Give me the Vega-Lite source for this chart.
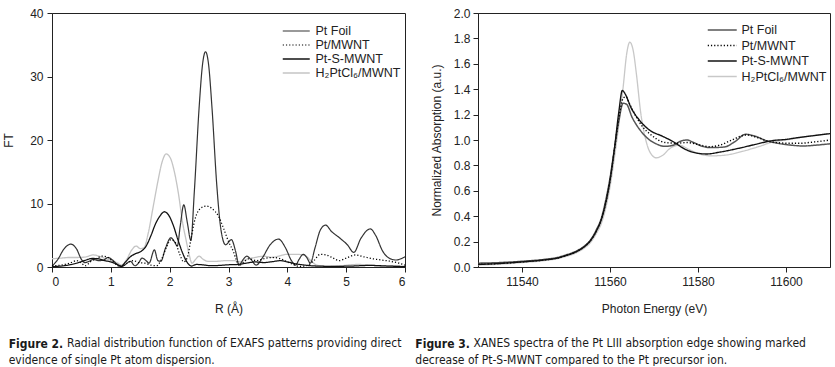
{
  "$schema": "https://vega.github.io/schema/vega-lite/v6.json",
  "background": "white",
  "padding": {"left": 2, "top": 6, "right": 2, "bottom": 0},
  "spacing": 5,
  "datasets": {
    "exafs": [
      {"s": "H₂PtCl₆/MWNT", "R": 0, "FT": 1.3}, {"s": "H₂PtCl₆/MWNT", "R": 0.15, "FT": 1.4}, {"s": "H₂PtCl₆/MWNT", "R": 0.3, "FT": 1.5}, {"s": "H₂PtCl₆/MWNT", "R": 0.45, "FT": 1.5}, {"s": "H₂PtCl₆/MWNT", "R": 0.58, "FT": 1.6}, {"s": "H₂PtCl₆/MWNT", "R": 0.7, "FT": 1.9}, {"s": "H₂PtCl₆/MWNT", "R": 0.8, "FT": 1.7}, {"s": "H₂PtCl₆/MWNT", "R": 0.92, "FT": 1.3}, {"s": "H₂PtCl₆/MWNT", "R": 1.02, "FT": 1.0}, {"s": "H₂PtCl₆/MWNT", "R": 1.12, "FT": 0.6}, {"s": "H₂PtCl₆/MWNT", "R": 1.18, "FT": 0.3}, {"s": "H₂PtCl₆/MWNT", "R": 1.27, "FT": 1.2}, {"s": "H₂PtCl₆/MWNT", "R": 1.35, "FT": 2.6}, {"s": "H₂PtCl₆/MWNT", "R": 1.43, "FT": 3.3}, {"s": "H₂PtCl₆/MWNT", "R": 1.5, "FT": 2.9}, {"s": "H₂PtCl₆/MWNT", "R": 1.56, "FT": 3.0}, {"s": "H₂PtCl₆/MWNT", "R": 1.64, "FT": 5.5}, {"s": "H₂PtCl₆/MWNT", "R": 1.72, "FT": 9.5}, {"s": "H₂PtCl₆/MWNT", "R": 1.8, "FT": 13.5}, {"s": "H₂PtCl₆/MWNT", "R": 1.87, "FT": 16.5}, {"s": "H₂PtCl₆/MWNT", "R": 1.94, "FT": 17.8}, {"s": "H₂PtCl₆/MWNT", "R": 2.01, "FT": 17.2}, {"s": "H₂PtCl₆/MWNT", "R": 2.08, "FT": 15.0}, {"s": "H₂PtCl₆/MWNT", "R": 2.15, "FT": 11.5}, {"s": "H₂PtCl₆/MWNT", "R": 2.22, "FT": 7.0}, {"s": "H₂PtCl₆/MWNT", "R": 2.28, "FT": 4.2}, {"s": "H₂PtCl₆/MWNT", "R": 2.33, "FT": 2.0}, {"s": "H₂PtCl₆/MWNT", "R": 2.38, "FT": 0.6}, {"s": "H₂PtCl₆/MWNT", "R": 2.44, "FT": 1.2}, {"s": "H₂PtCl₆/MWNT", "R": 2.5, "FT": 1.7}, {"s": "H₂PtCl₆/MWNT", "R": 2.57, "FT": 1.2}, {"s": "H₂PtCl₆/MWNT", "R": 2.65, "FT": 0.9}, {"s": "H₂PtCl₆/MWNT", "R": 2.8, "FT": 0.9}, {"s": "H₂PtCl₆/MWNT", "R": 2.95, "FT": 1.0}, {"s": "H₂PtCl₆/MWNT", "R": 3.1, "FT": 1.0}, {"s": "H₂PtCl₆/MWNT", "R": 3.2, "FT": 0.8}, {"s": "H₂PtCl₆/MWNT", "R": 3.3, "FT": 1.2}, {"s": "H₂PtCl₆/MWNT", "R": 3.45, "FT": 1.5}, {"s": "H₂PtCl₆/MWNT", "R": 3.6, "FT": 1.7}, {"s": "H₂PtCl₆/MWNT", "R": 3.75, "FT": 1.5}, {"s": "H₂PtCl₆/MWNT", "R": 3.88, "FT": 1.8}, {"s": "H₂PtCl₆/MWNT", "R": 4.0, "FT": 2.0}, {"s": "H₂PtCl₆/MWNT", "R": 4.15, "FT": 2.0}, {"s": "H₂PtCl₆/MWNT", "R": 4.3, "FT": 1.8}, {"s": "H₂PtCl₆/MWNT", "R": 4.4, "FT": 1.0}, {"s": "H₂PtCl₆/MWNT", "R": 4.5, "FT": 0.3}, {"s": "H₂PtCl₆/MWNT", "R": 4.65, "FT": 0.1}, {"s": "H₂PtCl₆/MWNT", "R": 4.9, "FT": 0.2}, {"s": "H₂PtCl₆/MWNT", "R": 5.2, "FT": 0.4}, {"s": "H₂PtCl₆/MWNT", "R": 5.4, "FT": 0.3}, {"s": "H₂PtCl₆/MWNT", "R": 5.6, "FT": 0.15}, {"s": "H₂PtCl₆/MWNT", "R": 5.8, "FT": 0.2}, {"s": "H₂PtCl₆/MWNT", "R": 6.0, "FT": 0.1},
      {"s": "Pt Foil", "R": 0, "FT": 0.1}, {"s": "Pt Foil", "R": 0.1, "FT": 1.2}, {"s": "Pt Foil", "R": 0.2, "FT": 2.8}, {"s": "Pt Foil", "R": 0.32, "FT": 3.6}, {"s": "Pt Foil", "R": 0.42, "FT": 2.8}, {"s": "Pt Foil", "R": 0.5, "FT": 1.2}, {"s": "Pt Foil", "R": 0.56, "FT": 0.7}, {"s": "Pt Foil", "R": 0.63, "FT": 0.9}, {"s": "Pt Foil", "R": 0.7, "FT": 1.2}, {"s": "Pt Foil", "R": 0.8, "FT": 1.0}, {"s": "Pt Foil", "R": 0.88, "FT": 1.1}, {"s": "Pt Foil", "R": 0.95, "FT": 1.5}, {"s": "Pt Foil", "R": 1.03, "FT": 1.1}, {"s": "Pt Foil", "R": 1.12, "FT": 0.3}, {"s": "Pt Foil", "R": 1.18, "FT": 0.05}, {"s": "Pt Foil", "R": 1.25, "FT": 0.4}, {"s": "Pt Foil", "R": 1.33, "FT": 0.9}, {"s": "Pt Foil", "R": 1.41, "FT": 0.2}, {"s": "Pt Foil", "R": 1.47, "FT": 0.6}, {"s": "Pt Foil", "R": 1.53, "FT": 1.4}, {"s": "Pt Foil", "R": 1.6, "FT": 1.0}, {"s": "Pt Foil", "R": 1.65, "FT": 0.6}, {"s": "Pt Foil", "R": 1.74, "FT": 2.7}, {"s": "Pt Foil", "R": 1.8, "FT": 1.0}, {"s": "Pt Foil", "R": 1.85, "FT": 0.9}, {"s": "Pt Foil", "R": 1.93, "FT": 3.0}, {"s": "Pt Foil", "R": 2.02, "FT": 4.6}, {"s": "Pt Foil", "R": 2.08, "FT": 4.0}, {"s": "Pt Foil", "R": 2.13, "FT": 3.3}, {"s": "Pt Foil", "R": 2.18, "FT": 6.5}, {"s": "Pt Foil", "R": 2.24, "FT": 9.8}, {"s": "Pt Foil", "R": 2.3, "FT": 7.0}, {"s": "Pt Foil", "R": 2.36, "FT": 4.2}, {"s": "Pt Foil", "R": 2.42, "FT": 12}, {"s": "Pt Foil", "R": 2.5, "FT": 25}, {"s": "Pt Foil", "R": 2.56, "FT": 32}, {"s": "Pt Foil", "R": 2.61, "FT": 33.9}, {"s": "Pt Foil", "R": 2.66, "FT": 32}, {"s": "Pt Foil", "R": 2.72, "FT": 25}, {"s": "Pt Foil", "R": 2.8, "FT": 13}, {"s": "Pt Foil", "R": 2.87, "FT": 6}, {"s": "Pt Foil", "R": 2.95, "FT": 3.5}, {"s": "Pt Foil", "R": 3.05, "FT": 4.3}, {"s": "Pt Foil", "R": 3.12, "FT": 2.5}, {"s": "Pt Foil", "R": 3.18, "FT": 0.3}, {"s": "Pt Foil", "R": 3.25, "FT": 1.2}, {"s": "Pt Foil", "R": 3.31, "FT": 1.7}, {"s": "Pt Foil", "R": 3.38, "FT": 1.2}, {"s": "Pt Foil", "R": 3.47, "FT": 0.3}, {"s": "Pt Foil", "R": 3.58, "FT": 1.5}, {"s": "Pt Foil", "R": 3.7, "FT": 3.4}, {"s": "Pt Foil", "R": 3.85, "FT": 4.4}, {"s": "Pt Foil", "R": 3.97, "FT": 3.0}, {"s": "Pt Foil", "R": 4.07, "FT": 1.0}, {"s": "Pt Foil", "R": 4.14, "FT": 0.3}, {"s": "Pt Foil", "R": 4.2, "FT": 1.2}, {"s": "Pt Foil", "R": 4.27, "FT": 2.0}, {"s": "Pt Foil", "R": 4.33, "FT": 1.5}, {"s": "Pt Foil", "R": 4.39, "FT": 0.6}, {"s": "Pt Foil", "R": 4.47, "FT": 3.0}, {"s": "Pt Foil", "R": 4.56, "FT": 5.8}, {"s": "Pt Foil", "R": 4.65, "FT": 6.6}, {"s": "Pt Foil", "R": 4.75, "FT": 5.6}, {"s": "Pt Foil", "R": 4.9, "FT": 4.5}, {"s": "Pt Foil", "R": 5.02, "FT": 3.5}, {"s": "Pt Foil", "R": 5.13, "FT": 2.3}, {"s": "Pt Foil", "R": 5.25, "FT": 4.5}, {"s": "Pt Foil", "R": 5.41, "FT": 6.0}, {"s": "Pt Foil", "R": 5.5, "FT": 5.0}, {"s": "Pt Foil", "R": 5.62, "FT": 2.5}, {"s": "Pt Foil", "R": 5.75, "FT": 1.3}, {"s": "Pt Foil", "R": 5.85, "FT": 1.1}, {"s": "Pt Foil", "R": 5.93, "FT": 1.3}, {"s": "Pt Foil", "R": 6.0, "FT": 1.6},
      {"s": "Pt/MWNT", "R": 0, "FT": 0.2}, {"s": "Pt/MWNT", "R": 0.15, "FT": 0.3}, {"s": "Pt/MWNT", "R": 0.3, "FT": 0.6}, {"s": "Pt/MWNT", "R": 0.42, "FT": 1.0}, {"s": "Pt/MWNT", "R": 0.5, "FT": 0.6}, {"s": "Pt/MWNT", "R": 0.57, "FT": 0.2}, {"s": "Pt/MWNT", "R": 0.65, "FT": 0.8}, {"s": "Pt/MWNT", "R": 0.75, "FT": 1.3}, {"s": "Pt/MWNT", "R": 0.85, "FT": 1.7}, {"s": "Pt/MWNT", "R": 0.93, "FT": 1.6}, {"s": "Pt/MWNT", "R": 1.02, "FT": 1.0}, {"s": "Pt/MWNT", "R": 1.12, "FT": 0.2}, {"s": "Pt/MWNT", "R": 1.18, "FT": 0.05}, {"s": "Pt/MWNT", "R": 1.27, "FT": 0.6}, {"s": "Pt/MWNT", "R": 1.38, "FT": 1.0}, {"s": "Pt/MWNT", "R": 1.48, "FT": 0.7}, {"s": "Pt/MWNT", "R": 1.58, "FT": 0.6}, {"s": "Pt/MWNT", "R": 1.68, "FT": 0.3}, {"s": "Pt/MWNT", "R": 1.78, "FT": 0.2}, {"s": "Pt/MWNT", "R": 1.86, "FT": 1.2}, {"s": "Pt/MWNT", "R": 1.95, "FT": 3.2}, {"s": "Pt/MWNT", "R": 2.02, "FT": 4.3}, {"s": "Pt/MWNT", "R": 2.1, "FT": 3.8}, {"s": "Pt/MWNT", "R": 2.17, "FT": 2.0}, {"s": "Pt/MWNT", "R": 2.24, "FT": 0.8}, {"s": "Pt/MWNT", "R": 2.3, "FT": 1.5}, {"s": "Pt/MWNT", "R": 2.36, "FT": 4.3}, {"s": "Pt/MWNT", "R": 2.43, "FT": 7.5}, {"s": "Pt/MWNT", "R": 2.52, "FT": 9.2}, {"s": "Pt/MWNT", "R": 2.62, "FT": 9.6}, {"s": "Pt/MWNT", "R": 2.72, "FT": 9.2}, {"s": "Pt/MWNT", "R": 2.83, "FT": 8.0}, {"s": "Pt/MWNT", "R": 2.92, "FT": 6.0}, {"s": "Pt/MWNT", "R": 3.0, "FT": 4.0}, {"s": "Pt/MWNT", "R": 3.08, "FT": 2.5}, {"s": "Pt/MWNT", "R": 3.13, "FT": 1.2}, {"s": "Pt/MWNT", "R": 3.18, "FT": 0.2}, {"s": "Pt/MWNT", "R": 3.25, "FT": 0.7}, {"s": "Pt/MWNT", "R": 3.35, "FT": 1.3}, {"s": "Pt/MWNT", "R": 3.48, "FT": 1.0}, {"s": "Pt/MWNT", "R": 3.6, "FT": 1.3}, {"s": "Pt/MWNT", "R": 3.75, "FT": 1.5}, {"s": "Pt/MWNT", "R": 3.88, "FT": 1.3}, {"s": "Pt/MWNT", "R": 4.0, "FT": 0.8}, {"s": "Pt/MWNT", "R": 4.1, "FT": 0.4}, {"s": "Pt/MWNT", "R": 4.2, "FT": 0.1}, {"s": "Pt/MWNT", "R": 4.32, "FT": 0.2}, {"s": "Pt/MWNT", "R": 4.45, "FT": 1.0}, {"s": "Pt/MWNT", "R": 4.56, "FT": 2.0}, {"s": "Pt/MWNT", "R": 4.66, "FT": 1.9}, {"s": "Pt/MWNT", "R": 4.78, "FT": 1.4}, {"s": "Pt/MWNT", "R": 4.88, "FT": 1.0}, {"s": "Pt/MWNT", "R": 5.0, "FT": 1.4}, {"s": "Pt/MWNT", "R": 5.16, "FT": 1.9}, {"s": "Pt/MWNT", "R": 5.3, "FT": 1.6}, {"s": "Pt/MWNT", "R": 5.45, "FT": 1.3}, {"s": "Pt/MWNT", "R": 5.6, "FT": 1.1}, {"s": "Pt/MWNT", "R": 5.75, "FT": 0.9}, {"s": "Pt/MWNT", "R": 5.9, "FT": 0.6}, {"s": "Pt/MWNT", "R": 6.0, "FT": 0.3},
      {"s": "Pt-S-MWNT", "R": 0, "FT": 0.05}, {"s": "Pt-S-MWNT", "R": 0.15, "FT": 0.15}, {"s": "Pt-S-MWNT", "R": 0.3, "FT": 0.35}, {"s": "Pt-S-MWNT", "R": 0.45, "FT": 0.7}, {"s": "Pt-S-MWNT", "R": 0.58, "FT": 1.1}, {"s": "Pt-S-MWNT", "R": 0.68, "FT": 1.35}, {"s": "Pt-S-MWNT", "R": 0.78, "FT": 1.3}, {"s": "Pt-S-MWNT", "R": 0.9, "FT": 1.0}, {"s": "Pt-S-MWNT", "R": 1.0, "FT": 0.8}, {"s": "Pt-S-MWNT", "R": 1.1, "FT": 0.45}, {"s": "Pt-S-MWNT", "R": 1.18, "FT": 0.15}, {"s": "Pt-S-MWNT", "R": 1.25, "FT": 0.8}, {"s": "Pt-S-MWNT", "R": 1.33, "FT": 1.6}, {"s": "Pt-S-MWNT", "R": 1.42, "FT": 2.1}, {"s": "Pt-S-MWNT", "R": 1.52, "FT": 2.5}, {"s": "Pt-S-MWNT", "R": 1.6, "FT": 3.3}, {"s": "Pt-S-MWNT", "R": 1.68, "FT": 4.9}, {"s": "Pt-S-MWNT", "R": 1.76, "FT": 6.8}, {"s": "Pt-S-MWNT", "R": 1.84, "FT": 8.1}, {"s": "Pt-S-MWNT", "R": 1.91, "FT": 8.7}, {"s": "Pt-S-MWNT", "R": 1.98, "FT": 8.2}, {"s": "Pt-S-MWNT", "R": 2.06, "FT": 6.6}, {"s": "Pt-S-MWNT", "R": 2.14, "FT": 4.3}, {"s": "Pt-S-MWNT", "R": 2.22, "FT": 2.2}, {"s": "Pt-S-MWNT", "R": 2.3, "FT": 0.7}, {"s": "Pt-S-MWNT", "R": 2.37, "FT": 0.15}, {"s": "Pt-S-MWNT", "R": 2.45, "FT": 0.4}, {"s": "Pt-S-MWNT", "R": 2.55, "FT": 0.35}, {"s": "Pt-S-MWNT", "R": 2.7, "FT": 0.2}, {"s": "Pt-S-MWNT", "R": 2.85, "FT": 0.25}, {"s": "Pt-S-MWNT", "R": 3.0, "FT": 0.35}, {"s": "Pt-S-MWNT", "R": 3.15, "FT": 0.4}, {"s": "Pt-S-MWNT", "R": 3.3, "FT": 0.6}, {"s": "Pt-S-MWNT", "R": 3.45, "FT": 0.8}, {"s": "Pt-S-MWNT", "R": 3.6, "FT": 0.7}, {"s": "Pt-S-MWNT", "R": 3.75, "FT": 0.85}, {"s": "Pt-S-MWNT", "R": 3.88, "FT": 1.0}, {"s": "Pt-S-MWNT", "R": 4.0, "FT": 0.8}, {"s": "Pt-S-MWNT", "R": 4.15, "FT": 0.5}, {"s": "Pt-S-MWNT", "R": 4.3, "FT": 0.3}, {"s": "Pt-S-MWNT", "R": 4.5, "FT": 0.15}, {"s": "Pt-S-MWNT", "R": 4.8, "FT": 0.1}, {"s": "Pt-S-MWNT", "R": 5.1, "FT": 0.15}, {"s": "Pt-S-MWNT", "R": 5.4, "FT": 0.25}, {"s": "Pt-S-MWNT", "R": 5.7, "FT": 0.15}, {"s": "Pt-S-MWNT", "R": 6.0, "FT": 0.05}
    ],
    "xanes": [
      {"s": "H₂PtCl₆/MWNT", "E": 11530, "A": 0.015}, {"s": "H₂PtCl₆/MWNT", "E": 11535, "A": 0.022}, {"s": "H₂PtCl₆/MWNT", "E": 11540, "A": 0.035}, {"s": "H₂PtCl₆/MWNT", "E": 11545, "A": 0.05}, {"s": "H₂PtCl₆/MWNT", "E": 11548, "A": 0.065}, {"s": "H₂PtCl₆/MWNT", "E": 11550, "A": 0.083}, {"s": "H₂PtCl₆/MWNT", "E": 11552, "A": 0.107}, {"s": "H₂PtCl₆/MWNT", "E": 11554, "A": 0.145}, {"s": "H₂PtCl₆/MWNT", "E": 11555.5, "A": 0.19}, {"s": "H₂PtCl₆/MWNT", "E": 11557, "A": 0.27}, {"s": "H₂PtCl₆/MWNT", "E": 11558, "A": 0.34}, {"s": "H₂PtCl₆/MWNT", "E": 11559, "A": 0.46}, {"s": "H₂PtCl₆/MWNT", "E": 11560, "A": 0.63}, {"s": "H₂PtCl₆/MWNT", "E": 11561, "A": 0.86}, {"s": "H₂PtCl₆/MWNT", "E": 11562, "A": 1.12}, {"s": "H₂PtCl₆/MWNT", "E": 11563, "A": 1.42}, {"s": "H₂PtCl₆/MWNT", "E": 11563.8, "A": 1.68}, {"s": "H₂PtCl₆/MWNT", "E": 11564.5, "A": 1.77}, {"s": "H₂PtCl₆/MWNT", "E": 11565.3, "A": 1.7}, {"s": "H₂PtCl₆/MWNT", "E": 11566, "A": 1.52}, {"s": "H₂PtCl₆/MWNT", "E": 11567, "A": 1.21}, {"s": "H₂PtCl₆/MWNT", "E": 11568, "A": 1.02}, {"s": "H₂PtCl₆/MWNT", "E": 11569, "A": 0.91}, {"s": "H₂PtCl₆/MWNT", "E": 11570.5, "A": 0.86}, {"s": "H₂PtCl₆/MWNT", "E": 11572, "A": 0.88}, {"s": "H₂PtCl₆/MWNT", "E": 11573.5, "A": 0.93}, {"s": "H₂PtCl₆/MWNT", "E": 11575.7, "A": 0.96}, {"s": "H₂PtCl₆/MWNT", "E": 11578, "A": 0.925}, {"s": "H₂PtCl₆/MWNT", "E": 11580, "A": 0.895}, {"s": "H₂PtCl₆/MWNT", "E": 11583, "A": 0.875}, {"s": "H₂PtCl₆/MWNT", "E": 11586, "A": 0.88}, {"s": "H₂PtCl₆/MWNT", "E": 11590, "A": 0.91}, {"s": "H₂PtCl₆/MWNT", "E": 11594, "A": 0.95}, {"s": "H₂PtCl₆/MWNT", "E": 11597, "A": 0.985}, {"s": "H₂PtCl₆/MWNT", "E": 11600, "A": 1.0}, {"s": "H₂PtCl₆/MWNT", "E": 11605, "A": 1.03}, {"s": "H₂PtCl₆/MWNT", "E": 11610, "A": 1.05},
      {"s": "Pt Foil", "E": 11530, "A": 0.03}, {"s": "Pt Foil", "E": 11535, "A": 0.035}, {"s": "Pt Foil", "E": 11540, "A": 0.045}, {"s": "Pt Foil", "E": 11545, "A": 0.06}, {"s": "Pt Foil", "E": 11548, "A": 0.075}, {"s": "Pt Foil", "E": 11550, "A": 0.095}, {"s": "Pt Foil", "E": 11552, "A": 0.12}, {"s": "Pt Foil", "E": 11554, "A": 0.16}, {"s": "Pt Foil", "E": 11555.5, "A": 0.21}, {"s": "Pt Foil", "E": 11557, "A": 0.3}, {"s": "Pt Foil", "E": 11558, "A": 0.38}, {"s": "Pt Foil", "E": 11559, "A": 0.52}, {"s": "Pt Foil", "E": 11560, "A": 0.7}, {"s": "Pt Foil", "E": 11561, "A": 0.93}, {"s": "Pt Foil", "E": 11562, "A": 1.15}, {"s": "Pt Foil", "E": 11563, "A": 1.29}, {"s": "Pt Foil", "E": 11563.8, "A": 1.28}, {"s": "Pt Foil", "E": 11565, "A": 1.18}, {"s": "Pt Foil", "E": 11566, "A": 1.12}, {"s": "Pt Foil", "E": 11567.5, "A": 1.05}, {"s": "Pt Foil", "E": 11569, "A": 1.0}, {"s": "Pt Foil", "E": 11570.5, "A": 0.97}, {"s": "Pt Foil", "E": 11572.5, "A": 0.95}, {"s": "Pt Foil", "E": 11574.5, "A": 0.96}, {"s": "Pt Foil", "E": 11576, "A": 0.99}, {"s": "Pt Foil", "E": 11577.5, "A": 1.0}, {"s": "Pt Foil", "E": 11579, "A": 0.98}, {"s": "Pt Foil", "E": 11581, "A": 0.95}, {"s": "Pt Foil", "E": 11583, "A": 0.94}, {"s": "Pt Foil", "E": 11586, "A": 0.945}, {"s": "Pt Foil", "E": 11588.5, "A": 0.99}, {"s": "Pt Foil", "E": 11590.8, "A": 1.045}, {"s": "Pt Foil", "E": 11593, "A": 1.03}, {"s": "Pt Foil", "E": 11595.5, "A": 0.995}, {"s": "Pt Foil", "E": 11598, "A": 0.975}, {"s": "Pt Foil", "E": 11601, "A": 0.96}, {"s": "Pt Foil", "E": 11604, "A": 0.953}, {"s": "Pt Foil", "E": 11607, "A": 0.96}, {"s": "Pt Foil", "E": 11610, "A": 0.97},
      {"s": "Pt/MWNT", "E": 11530, "A": 0.02}, {"s": "Pt/MWNT", "E": 11535, "A": 0.028}, {"s": "Pt/MWNT", "E": 11540, "A": 0.04}, {"s": "Pt/MWNT", "E": 11545, "A": 0.055}, {"s": "Pt/MWNT", "E": 11548, "A": 0.07}, {"s": "Pt/MWNT", "E": 11550, "A": 0.09}, {"s": "Pt/MWNT", "E": 11552, "A": 0.115}, {"s": "Pt/MWNT", "E": 11554, "A": 0.155}, {"s": "Pt/MWNT", "E": 11555.5, "A": 0.205}, {"s": "Pt/MWNT", "E": 11557, "A": 0.29}, {"s": "Pt/MWNT", "E": 11558, "A": 0.37}, {"s": "Pt/MWNT", "E": 11559, "A": 0.5}, {"s": "Pt/MWNT", "E": 11560, "A": 0.68}, {"s": "Pt/MWNT", "E": 11561, "A": 0.92}, {"s": "Pt/MWNT", "E": 11562, "A": 1.17}, {"s": "Pt/MWNT", "E": 11563, "A": 1.33}, {"s": "Pt/MWNT", "E": 11563.6, "A": 1.34}, {"s": "Pt/MWNT", "E": 11564.5, "A": 1.28}, {"s": "Pt/MWNT", "E": 11566, "A": 1.18}, {"s": "Pt/MWNT", "E": 11567.5, "A": 1.1}, {"s": "Pt/MWNT", "E": 11569, "A": 1.05}, {"s": "Pt/MWNT", "E": 11570.5, "A": 1.01}, {"s": "Pt/MWNT", "E": 11572.5, "A": 0.98}, {"s": "Pt/MWNT", "E": 11575, "A": 0.975}, {"s": "Pt/MWNT", "E": 11577.5, "A": 0.98}, {"s": "Pt/MWNT", "E": 11580, "A": 0.965}, {"s": "Pt/MWNT", "E": 11582.5, "A": 0.947}, {"s": "Pt/MWNT", "E": 11585, "A": 0.96}, {"s": "Pt/MWNT", "E": 11587.7, "A": 1.0}, {"s": "Pt/MWNT", "E": 11591, "A": 1.04}, {"s": "Pt/MWNT", "E": 11593.5, "A": 1.02}, {"s": "Pt/MWNT", "E": 11596, "A": 0.99}, {"s": "Pt/MWNT", "E": 11600, "A": 0.975}, {"s": "Pt/MWNT", "E": 11603, "A": 0.974}, {"s": "Pt/MWNT", "E": 11606.5, "A": 0.985}, {"s": "Pt/MWNT", "E": 11610, "A": 1.0},
      {"s": "Pt-S-MWNT", "E": 11530, "A": 0.02}, {"s": "Pt-S-MWNT", "E": 11535, "A": 0.028}, {"s": "Pt-S-MWNT", "E": 11540, "A": 0.04}, {"s": "Pt-S-MWNT", "E": 11545, "A": 0.055}, {"s": "Pt-S-MWNT", "E": 11548, "A": 0.07}, {"s": "Pt-S-MWNT", "E": 11550, "A": 0.09}, {"s": "Pt-S-MWNT", "E": 11552, "A": 0.115}, {"s": "Pt-S-MWNT", "E": 11554, "A": 0.155}, {"s": "Pt-S-MWNT", "E": 11555.5, "A": 0.205}, {"s": "Pt-S-MWNT", "E": 11557, "A": 0.29}, {"s": "Pt-S-MWNT", "E": 11558, "A": 0.37}, {"s": "Pt-S-MWNT", "E": 11559, "A": 0.5}, {"s": "Pt-S-MWNT", "E": 11560, "A": 0.68}, {"s": "Pt-S-MWNT", "E": 11561, "A": 0.93}, {"s": "Pt-S-MWNT", "E": 11562, "A": 1.22}, {"s": "Pt-S-MWNT", "E": 11562.8, "A": 1.39}, {"s": "Pt-S-MWNT", "E": 11563.5, "A": 1.36}, {"s": "Pt-S-MWNT", "E": 11564.7, "A": 1.26}, {"s": "Pt-S-MWNT", "E": 11566.6, "A": 1.16}, {"s": "Pt-S-MWNT", "E": 11568.9, "A": 1.08}, {"s": "Pt-S-MWNT", "E": 11571.9, "A": 1.03}, {"s": "Pt-S-MWNT", "E": 11574.2, "A": 0.99}, {"s": "Pt-S-MWNT", "E": 11577.2, "A": 0.925}, {"s": "Pt-S-MWNT", "E": 11580, "A": 0.895}, {"s": "Pt-S-MWNT", "E": 11582, "A": 0.89}, {"s": "Pt-S-MWNT", "E": 11585, "A": 0.905}, {"s": "Pt-S-MWNT", "E": 11589.3, "A": 0.935}, {"s": "Pt-S-MWNT", "E": 11593, "A": 0.965}, {"s": "Pt-S-MWNT", "E": 11596.9, "A": 0.995}, {"s": "Pt-S-MWNT", "E": 11600, "A": 1.005}, {"s": "Pt-S-MWNT", "E": 11603, "A": 1.02}, {"s": "Pt-S-MWNT", "E": 11606.5, "A": 1.035}, {"s": "Pt-S-MWNT", "E": 11610, "A": 1.05}
    ]
  },
  "hconcat": [
    {
      "width": 353,
      "height": 254,
      "data": {"name": "exafs"},
      "title": {
        "text": "Figure 2.",
        "subtitle": ["\u200b\u00a0\u00a0\u00a0\u00a0\u00a0\u00a0\u00a0\u00a0\u00a0\u00a0\u00a0\u00a0\u00a0\u00a0\u00a0\u00a0\u00a0Radial distribution function of EXAFS patterns providing direct", "evidence of single Pt atom dispersion."],
        "orient": "bottom", "anchor": "start", "frame": "bounds", "dx": 6, "offset": 25,
        "font": "DejaVu Sans Condensed, Liberation Sans", "fontSize": 12, "fontWeight": "bold", "color": "#1a1a1a",
        "subtitleFont": "DejaVu Sans Condensed, Liberation Sans", "subtitleFontSize": 12, "subtitleColor": "#1a1a1a",
        "subtitlePadding": -13, "subtitleLineHeight": 16.5
      },
      "mark": {"type": "line", "interpolate": "monotone"},
      "encoding": {
        "x": {"field": "R", "type": "quantitative", "scale": {"domain": [0, 6], "nice": false}, "axis": {"title": "R (Å)", "values": [0, 1, 2, 3, 4, 5, 6]}},
        "y": {"field": "FT", "type": "quantitative", "scale": {"domain": [0, 40], "nice": false}, "axis": {"title": "FT", "values": [0, 10, 20, 30, 40], "titlePadding": 14, "labelPadding": 4}},
        "color": {"field": "s", "type": "nominal", "scale": {"domain": ["Pt Foil", "Pt/MWNT", "Pt-S-MWNT", "H₂PtCl₆/MWNT"], "range": ["#333333", "#000000", "#111111", "#c4c4c4"]}, "legend": {"title": null, "orient": "none", "legendX": 230, "legendY": 10.5, "symbolType": "M-1,0H3", "symbolSize": 182, "rowPadding": 0, "labelOffset": 18.5}},
        "strokeDash": {"field": "s", "type": "nominal", "scale": {"domain": ["Pt Foil", "Pt/MWNT", "Pt-S-MWNT", "H₂PtCl₆/MWNT"], "range": [[1, 0], [1.2, 2], [1, 0], [1, 0]]}, "legend": {"title": null, "orient": "none", "legendX": 230, "legendY": 10.5, "symbolType": "M-1,0H3", "symbolSize": 182, "rowPadding": 0, "labelOffset": 18.5}},
        "strokeWidth": {"field": "s", "type": "nominal", "scale": {"domain": ["Pt Foil", "Pt/MWNT", "Pt-S-MWNT", "H₂PtCl₆/MWNT"], "range": [1.2, 1.3, 3, 1.2]}, "legend": {"title": null, "orient": "none", "legendX": 230, "legendY": 10.5, "symbolType": "M-1,0H3", "symbolSize": 182, "rowPadding": 0, "labelOffset": 18.5}}
      }
    },
    {
      "width": 352,
      "height": 254,
      "data": {"name": "xanes"},
      "title": {
        "text": "Figure 3.",
        "subtitle": ["\u200b\u00a0\u00a0\u00a0\u00a0\u00a0\u00a0\u00a0\u00a0\u00a0\u00a0\u00a0\u00a0\u00a0\u00a0\u00a0\u00a0\u00a0XANES spectra of the Pt LIII absorption edge showing marked", "decrease of Pt-S-MWNT compared to the Pt precursor ion."],
        "orient": "bottom", "anchor": "start", "frame": "bounds", "dx": -15, "offset": 25,
        "font": "DejaVu Sans Condensed, Liberation Sans", "fontSize": 12, "fontWeight": "bold", "color": "#1a1a1a",
        "subtitleFont": "DejaVu Sans Condensed, Liberation Sans", "subtitleFontSize": 12, "subtitleColor": "#1a1a1a",
        "subtitlePadding": -13, "subtitleLineHeight": 16.5
      },
      "mark": {"type": "line", "interpolate": "monotone"},
      "encoding": {
        "x": {"field": "E", "type": "quantitative", "scale": {"domain": [11530, 11610], "nice": false}, "axis": {"title": "Photon Energy (eV)", "values": [11540, 11560, 11580, 11600], "format": "d"}},
        "y": {"field": "A", "type": "quantitative", "scale": {"domain": [0, 2], "nice": false}, "axis": {"title": "Normalized Absorption (a.u.)", "values": [0, 0.2, 0.4, 0.6, 0.8, 1.0, 1.2, 1.4, 1.6, 1.8, 2.0], "format": ".1f", "titlePadding": 10, "labelPadding": 3}},
        "color": {"field": "s", "type": "nominal", "scale": {"domain": ["Pt Foil", "Pt/MWNT", "Pt-S-MWNT", "H₂PtCl₆/MWNT"], "range": ["#555555", "#000000", "#111111", "#c8c8c8"]}, "legend": {"title": null, "orient": "none", "legendX": 229, "legendY": 9, "symbolType": "M-1,0H3", "symbolSize": 210, "rowPadding": 0.5, "labelOffset": 18.5}},
        "strokeDash": {"field": "s", "type": "nominal", "scale": {"domain": ["Pt Foil", "Pt/MWNT", "Pt-S-MWNT", "H₂PtCl₆/MWNT"], "range": [[1, 0], [1.2, 2], [1, 0], [1, 0]]}, "legend": {"title": null, "orient": "none", "legendX": 229, "legendY": 9, "symbolType": "M-1,0H3", "symbolSize": 210, "rowPadding": 0.5, "labelOffset": 18.5}},
        "strokeWidth": {"field": "s", "type": "nominal", "scale": {"domain": ["Pt Foil", "Pt/MWNT", "Pt-S-MWNT", "H₂PtCl₆/MWNT"], "range": [1.5, 1.3, 3, 1.3]}, "legend": {"title": null, "orient": "none", "legendX": 229, "legendY": 9, "symbolType": "M-1,0H3", "symbolSize": 210, "rowPadding": 0.5, "labelOffset": 18.5}}
      }
    }
  ],
  "resolve": {
    "scale": {"color": "independent", "strokeDash": "independent", "strokeWidth": "independent"},
    "legend": {"color": "independent", "strokeDash": "independent", "strokeWidth": "independent"}
  },
  "config": {
    "font": "Liberation Sans",
    "view": {"stroke": "#222222", "strokeWidth": 1},
    "axis": {
      "grid": false, "domainColor": "#222222", "tickColor": "#222222", "tickSize": 5,
      "labelFont": "Liberation Sans", "labelFontSize": 12, "labelColor": "#222222", "labelPadding": 3,
      "titleFont": "Liberation Sans", "titleFontSize": 12, "titleFontWeight": "normal", "titleColor": "#222222"
    },
    "axisX": {"titlePadding": 16, "labelPadding": 4},
    "legend": {
      "labelFont": "Liberation Sans", "labelFontSize": 12.5,
      "labelColor": "#222222", "padding": 0, "symbolOffset": 0
    }
  }
}
